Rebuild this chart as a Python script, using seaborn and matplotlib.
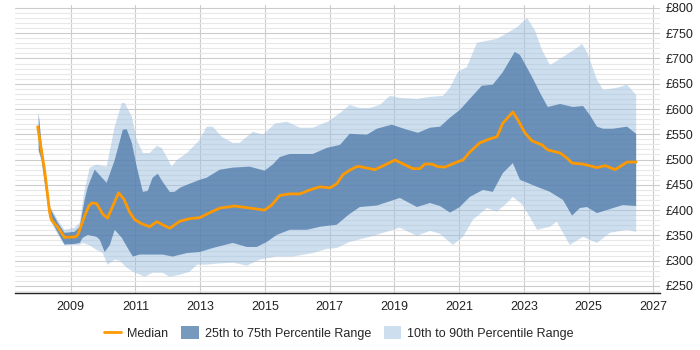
import numpy as np
import matplotlib
matplotlib.use("Agg")
import matplotlib.pyplot as plt
import seaborn as sns
from matplotlib.ticker import MultipleLocator, FuncFormatter

# median
med_year = [2007.98, 2008.20, 2008.35, 2008.41, 2008.60, 2008.81, 2009.15, 2009.22, 2009.43, 2009.56,
            2009.65, 2009.80, 2009.99, 2010.14, 2010.30, 2010.48, 2010.64, 2010.82, 2010.98, 2011.19,
            2011.44, 2011.66, 2011.84, 2012.06, 2012.37, 2012.68, 2012.99, 2013.30, 2013.61, 2014.07,
            2014.53, 2014.99, 2015.21, 2015.46, 2015.77, 2016.08, 2016.39, 2016.70, 2017.01, 2017.22,
            2017.41, 2017.62, 2017.84, 2017.93, 2018.40, 2019.02, 2019.57, 2019.79, 2019.94, 2020.16,
            2020.34, 2020.56, 2020.93, 2021.12, 2021.33, 2021.64, 2021.95, 2022.17, 2022.35, 2022.66,
            2022.82, 2023.03, 2023.25, 2023.56, 2023.74, 2024.12, 2024.33, 2024.49, 2024.83, 2025.26,
            2025.51, 2025.82, 2026.19, 2026.47]
med_val = [565, 476, 395, 380, 366, 346, 347, 351, 388, 408,
           414, 413, 392, 384, 408, 434, 422, 396, 381, 373,
           367, 377, 371, 364, 378, 383, 385, 395, 404, 408,
           404, 400, 410, 429, 432, 432, 440, 446, 444, 452,
           470, 479, 486, 486, 480, 499, 482, 482, 491, 491,
           486, 485, 495, 499, 515, 533, 541, 545, 572, 594,
           578, 553, 537, 529, 519, 513, 503, 493, 491, 484,
           488, 480, 495, 495]

# 75th percentile
p75_year = [2008.01, 2008.10, 2008.35, 2008.60, 2008.81, 2009.12, 2009.28, 2009.43, 2009.53, 2009.74,
            2010.11, 2010.36, 2010.61, 2010.73, 2010.89, 2011.04, 2011.23, 2011.38, 2011.53, 2011.69,
            2011.84, 2012.06, 2012.21, 2012.37, 2012.59, 2012.99, 2013.20, 2013.61, 2014.01, 2014.53,
            2014.99, 2015.24, 2015.46, 2015.77, 2016.17, 2016.48, 2016.91, 2017.32, 2017.62, 2018.15,
            2018.46, 2018.92, 2019.39, 2019.73, 2020.10, 2020.41, 2020.72, 2021.02, 2021.33, 2021.70,
            2022.04, 2022.35, 2022.72, 2022.88, 2023.25, 2023.50, 2023.74, 2024.12, 2024.52, 2024.83,
            2025.04, 2025.26, 2025.45, 2025.75, 2026.19, 2026.47]
p75_val = [592, 530, 405, 375, 355, 357, 367, 420, 446, 480,
           454, 499, 559, 560, 533, 486, 436, 438, 464, 472,
           456, 436, 436, 444, 450, 460, 464, 480, 484, 486,
           478, 490, 505, 511, 511, 511, 523, 529, 551, 549,
           561, 569, 559, 553, 563, 565, 583, 598, 620, 646,
           648, 673, 713, 707, 664, 632, 604, 610, 604, 606,
           588, 565, 561, 561, 565, 551]

# 25th percentile
p25_year = [2008.01, 2008.10, 2008.35, 2008.60, 2008.81, 2009.12, 2009.28, 2009.37, 2009.53, 2009.80,
            2009.90, 2010.05, 2010.21, 2010.36, 2010.58, 2010.76, 2010.92, 2011.13, 2011.53, 2011.84,
            2012.15, 2012.59, 2012.99, 2013.39, 2014.01, 2014.44, 2014.75, 2015.06, 2015.37, 2015.77,
            2016.30, 2016.70, 2017.22, 2017.59, 2017.93, 2018.46, 2019.17, 2019.70, 2020.10, 2020.41,
            2020.72, 2021.02, 2021.33, 2021.74, 2022.04, 2022.35, 2022.66, 2022.88, 2023.41, 2023.81,
            2024.21, 2024.49, 2024.73, 2024.95, 2025.26, 2025.66, 2026.06, 2026.47]
p25_val = [519, 500, 385, 356, 332, 333, 335, 345, 351, 347,
           341, 317, 331, 361, 345, 325, 308, 312, 312, 312,
           308, 315, 317, 325, 335, 327, 327, 337, 351, 361,
           361, 367, 371, 391, 406, 409, 424, 406, 414, 408,
           395, 406, 426, 440, 436, 473, 493, 460, 446, 436,
           420, 389, 404, 406, 394, 402, 410, 408]

# 90th percentile
p90_year = [2008.01, 2008.10, 2008.35, 2008.60, 2008.81, 2009.12, 2009.28, 2009.43, 2009.59, 2009.80,
            2010.11, 2010.36, 2010.58, 2010.67, 2010.89, 2011.04, 2011.23, 2011.44, 2011.66, 2011.81,
            2011.97, 2012.12, 2012.28, 2012.59, 2012.99, 2013.20, 2013.39, 2013.67, 2014.01, 2014.22,
            2014.63, 2014.94, 2015.31, 2015.68, 2016.08, 2016.48, 2016.94, 2017.32, 2017.62, 2017.93,
            2018.24, 2018.55, 2018.86, 2019.17, 2019.70, 2020.10, 2020.50, 2020.72, 2020.96, 2021.24,
            2021.55, 2021.86, 2022.17, 2022.48, 2022.79, 2023.10, 2023.34, 2023.56, 2023.81, 2024.21,
            2024.64, 2024.80, 2024.95, 2025.26, 2025.45, 2025.88, 2026.19, 2026.47]
p90_val = [592, 535, 410, 380, 361, 365, 375, 440, 484, 490,
           486, 565, 612, 612, 585, 539, 513, 513, 527, 523,
           505, 486, 499, 513, 539, 565, 565, 545, 533, 533,
           555, 549, 571, 575, 563, 563, 575, 592, 608, 602,
           602, 608, 626, 622, 620, 624, 626, 642, 673, 683,
           731, 735, 739, 750, 762, 780, 756, 717, 687, 703,
           721, 729, 713, 658, 638, 642, 648, 628]

# 10th percentile
p10_year = [2008.01, 2008.10, 2008.35, 2008.60, 2008.81, 2009.12, 2009.28, 2009.37, 2009.59, 2009.80,
            2009.99, 2010.14, 2010.36, 2010.51, 2010.73, 2010.92, 2011.29, 2011.53, 2011.84, 2012.06,
            2012.37, 2012.68, 2012.90, 2013.20, 2013.51, 2014.01, 2014.44, 2014.84, 2015.37, 2015.86,
            2016.48, 2016.91, 2017.22, 2017.62, 2018.24, 2019.17, 2019.70, 2020.10, 2020.41, 2020.81,
            2021.12, 2021.43, 2021.86, 2022.17, 2022.48, 2022.66, 2022.97, 2023.41, 2023.81, 2024.02,
            2024.42, 2024.83, 2025.26, 2025.66, 2026.19, 2026.47]
p10_val = [515, 495, 382, 352, 330, 331, 331, 335, 330, 321,
           315, 292, 302, 300, 286, 278, 268, 276, 276, 268,
           272, 278, 292, 292, 294, 296, 290, 302, 308, 308,
           315, 323, 325, 337, 347, 365, 349, 359, 353, 331,
           347, 381, 404, 397, 414, 426, 410, 361, 367, 377,
           331, 347, 335, 355, 361, 357]

sns.set_style("white")
plt.rcParams["font.family"] = ["Liberation Sans", "DejaVu Sans"]

fig = plt.figure(figsize=(7, 3.5), dpi=100)
ax = fig.add_axes([0.021, 0.163, 0.922, 0.823])

# bands as polygons (upper edge then lower edge reversed)
light = ax.fill(np.r_[p90_year, p10_year[::-1]], np.r_[p90_val, p10_val[::-1]],
                color="#9dbfe0", alpha=0.5, lw=0, zorder=2,
                label="10th to 90th Percentile Range")[0]
dark = ax.fill(np.r_[p75_year, p25_year[::-1]], np.r_[p75_val, p25_val[::-1]],
               color="#4a77a8", alpha=0.75, lw=0, zorder=3,
               label="25th to 75th Percentile Range")[0]
sns.lineplot(x=med_year, y=med_val, color="#ff9900", lw=2, ax=ax, zorder=4, label="Median")
line = ax.get_lines()[0]

ax.set_xlim(2007.27, 2027.21)
ax.set_ylim(236, 806)
ax.set_xticks(range(2009, 2028, 2))
ax.yaxis.set_major_locator(MultipleLocator(50))
ax.yaxis.set_minor_locator(MultipleLocator(10))
ax.yaxis.set_major_formatter(FuncFormatter(lambda v, p: f"£{v:.0f}"))
ax.yaxis.tick_right()
ax.tick_params(axis="both", which="both", length=0, labelsize=9, colors="#222222")
ax.tick_params(axis="y", pad=4)
ax.tick_params(axis="x", pad=6)

ax.grid(axis="y", which="minor", color="#e8e8e8", lw=0.8, zorder=0)
ax.grid(axis="y", which="major", color="#cccccc", lw=0.8, zorder=0)
ax.grid(axis="x", which="major", color="#cccccc", lw=0.8, zorder=0)
ax.set_axisbelow(True)

for s in ["top", "left", "right"]:
    ax.spines[s].set_visible(False)
ax.spines["bottom"].set_color("#222222")
ax.spines["bottom"].set_linewidth(1)

ax.get_legend().remove()
fig.legend([line, dark, light],
           ["Median", "25th to 75th Percentile Range", "10th to 90th Percentile Range"],
           loc="center", bbox_to_anchor=(0.484, 0.048), ncol=3, frameon=False,
           fontsize=9, handlelength=1.4, handleheight=1.2, columnspacing=1.0, handletextpad=0.5)

fig.savefig("out.png", dpi=100)
